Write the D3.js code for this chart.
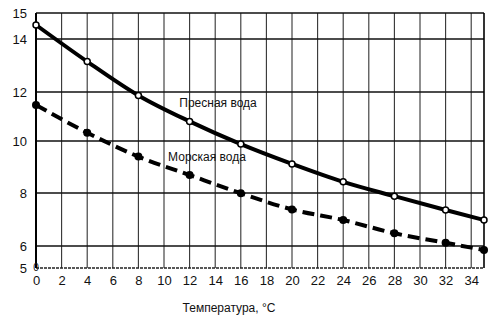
<!DOCTYPE html>
<html><head><meta charset="utf-8">
<script src="https://cdn.jsdelivr.net/npm/d3@7"></script>
<style>body{margin:0;background:#fff}text{font-family:"Liberation Sans",Arial,sans-serif;fill:#111}</style>
</head><body>
<script>
const temps = [0, 4, 8, 12, 16, 20, 24, 28, 32, 35];
const freshWater = [14.54, 13.15, 11.86, 10.8, 9.88, 9.12, 8.43, 7.88, 7.36, 6.98];
const seaWater = [11.47, 10.34, 9.4, 8.69, 7.99, 7.38, 6.98, 6.48, 6.12, 5.82];
const xTicks = [0,2,4,6,8,10,12,14,16,18,20,22,24,26,28,30,32,34];
const yTicks = [5,6,8,10,12,14,15];
const yGrid = [6,8,10,12,14];
const seriesLabels = ["Пресная вода", "Морская вода"];
const xTitle = "Температура, °C";

const W = 500, H = 323;
const svg = d3.select("body").append("svg").attr("width", W).attr("height", H);
const x = d3.scaleLinear().domain([0, 35]).range([36, 484]);
const y = d3.scaleLinear().domain([15,14,12,10,8,6,5]).range([13,39,92,141,193,246,268]);

// grid
svg.append("g").selectAll("line").data(xTicks.filter(d=>d>0)).join("line")
  .attr("x1", d=>x(d)).attr("x2", d=>x(d)).attr("y1", y(15)).attr("y2", y(5))
  .attr("stroke", "#333").attr("stroke-width", 1.1);
svg.append("g").selectAll("line").data(yGrid).join("line")
  .attr("x1", x(0)).attr("x2", x(35)).attr("y1", d=>y(d)).attr("y2", d=>y(d))
  .attr("stroke", "#111").attr("stroke-width", 1.5);
// border
svg.append("line").attr("x1", x(0)).attr("x2", x(35)).attr("y1", y(15)).attr("y2", y(15)).attr("stroke","#111").attr("stroke-width",1.5);
svg.append("line").attr("x1", x(0)).attr("x2", x(35)).attr("y1", y(5)).attr("y2", y(5)).attr("stroke","#222").attr("stroke-width",1.3).attr("stroke-dasharray","3,1");
svg.append("line").attr("x1", x(0)).attr("x2", x(0)).attr("y1", y(15)).attr("y2", y(5)).attr("stroke","#000").attr("stroke-width",2);
svg.append("line").attr("x1", x(35)).attr("x2", x(35)).attr("y1", y(15)).attr("y2", y(5)).attr("stroke","#000").attr("stroke-width",1.6);

// axes labels
const yAxis = d3.axisLeft(y).tickValues(yTicks).tickSize(0).tickPadding(9).tickFormat(d3.format("d"));
const gy = svg.append("g").attr("transform", `translate(${x(0)},0)`).call(yAxis);
gy.select(".domain").remove();
gy.selectAll("text").attr("font-size", 13).style("font-family", "Liberation Sans, Arial, sans-serif").attr("fill", "#111");
const xAxis = d3.axisBottom(x).tickValues(xTicks).tickSize(0).tickPadding(8).tickFormat(d3.format("d"));
const gx = svg.append("g").attr("transform", `translate(0,${y(5)})`).call(xAxis);
gx.select(".domain").remove();
gx.selectAll("text").attr("font-size", 13).style("font-family", "Liberation Sans, Arial, sans-serif").attr("fill", "#111");
// origin 0
svg.append("text").attr("x", x(0)).attr("y", y(5)).attr("dy", "0.3em").attr("text-anchor","middle").attr("font-size", 10).text("0");

// lines
const line = d3.line().x((d,i)=>x(temps[i])).y(d=>y(d)).curve(d3.curveMonotoneX);
svg.append("path").attr("d", line(freshWater)).attr("fill","none").attr("stroke","#000").attr("stroke-width",4);
svg.append("path").attr("d", line(seaWater)).attr("fill","none").attr("stroke","#000").attr("stroke-width",4).attr("stroke-dasharray","12,6");

svg.append("g").selectAll("circle").data(freshWater).join("circle")
  .attr("cx",(d,i)=>x(temps[i])).attr("cy", d=>y(d)).attr("r", 3).attr("fill","#fff").attr("stroke","#000").attr("stroke-width",1.5);
svg.append("g").selectAll("circle").data(seaWater).join("circle")
  .attr("cx",(d,i)=>x(temps[i])).attr("cy", d=>y(d)).attr("r", 4).attr("fill","#000");

// series labels
svg.append("text").attr("x", 218).attr("y", 107).attr("text-anchor","middle").attr("font-size", 12).text(seriesLabels[0]);
svg.append("text").attr("x", 207).attr("y", 161).attr("text-anchor","middle").attr("font-size", 12).text(seriesLabels[1]);
svg.append("text").attr("x", 229).attr("y", 312).attr("text-anchor","middle").attr("font-size", 12).text(xTitle);
</script>
</body></html>
